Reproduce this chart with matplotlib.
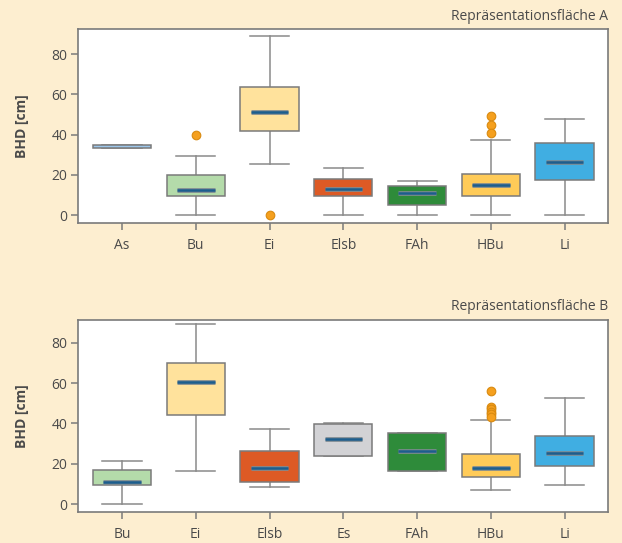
import matplotlib
matplotlib.use("Agg")
import matplotlib.pyplot as plt
import matplotlib.patheffects as pe

plt.rcParams['font.family'] = ['Open Sans', 'DejaVu Sans']

# ---- data: panel A ----
cats_a = ["As", "Bu", "Ei", "Elsb", "FAh", "HBu", "Li"]
q1_a = [33.3, 9.7, 41.7, 9.7, 5.1, 9.7, 17.5]
med_a = [34.0, 12.7, 51.1, 13.2, 11.2, 15.0, 26.3]
q3_a = [34.7, 19.8, 63.6, 17.9, 14.5, 20.5, 35.7]
wlo_a = [33.3, 0.0, 25.6, 0.0, 0.0, 0.0, 0.0]
whi_a = [34.7, 29.6, 89.0, 23.6, 17.2, 37.4, 47.8]
fl_a = [[], [40.0], [0.2], [], [], [49.2, 45.0, 40.7], []]

# ---- data: panel B ----
cats_b = ["Bu", "Ei", "Elsb", "Es", "FAh", "HBu", "Li"]
q1_b = [9.4, 44.3, 11.1, 24.0, 16.5, 13.2, 18.9]
med_b = [11.1, 60.4, 17.7, 32.1, 26.3, 18.0, 25.3]
q3_b = [16.9, 70.1, 26.3, 39.8, 35.2, 24.8, 33.6]
wlo_b = [0.0, 16.4, 8.3, 24.0, 16.5, 6.9, 9.6]
whi_b = [21.5, 89.5, 37.4, 40.0, 35.4, 41.5, 52.6]
fl_b = [[], [], [], [], [], [56.1, 48.3, 47.0, 45.7, 44.5, 43.3], []]

colors = {
    "As": "#9CC6EA", "Bu": "#B4DBAA", "Ei": "#FFE29C", "Elsb": "#DD5A25",
    "Es": "#D2D2D5", "FAh": "#2E8B3A", "HBu": "#FFCB58", "Li": "#40AEE2",
}

BG = "#FDEED0"
GREY = "#7A7A7A"
TXT = "#4A4A4A"

fig = plt.figure(figsize=(6.22, 5.43), dpi=100, facecolor=BG)
ax_a = fig.add_axes([0.1259, 0.5899, 0.8521, 0.3562])
ax_b = fig.add_axes([0.1259, 0.0577, 0.8521, 0.3530])


def draw(ax, cats, q1, med, q3, wlo, whi, fl, ylim, title):
    stats = []
    for i, c in enumerate(cats):
        stats.append(dict(label=c, q1=q1[i], med=med[i], q3=q3[i],
                          whislo=wlo[i], whishi=whi[i], fliers=fl[i]))
    pos = list(range(len(cats)))
    res = ax.bxp(stats, positions=pos, widths=0.79, patch_artist=True,
                 showfliers=True,
                 boxprops=dict(edgecolor=GREY, linewidth=1.1),
                 whiskerprops=dict(color="#8A8A8A", linewidth=1.1),
                 capprops=dict(color="#8A8A8A", linewidth=1.1),
                 capwidths=0.53,
                 medianprops=dict(visible=False),
                 flierprops=dict(marker='o', markersize=6.2,
                                 markerfacecolor="#F5A01E",
                                 markeredgecolor="#D98A10",
                                 markeredgewidth=0.8, linestyle='none'))
    for patch, c in zip(res['boxes'], cats):
        patch.set_facecolor(colors[c])
        patch.set_zorder(3)
    for i, c in enumerate(cats):
        if q3[i] - q1[i] < 2:
            continue
        ln, = ax.plot([i - 0.255, i + 0.255], [med[i], med[i]],
                      color="#1C5E8E", linewidth=1.8, solid_capstyle='butt',
                      zorder=5)
        ln.set_path_effects([pe.Stroke(linewidth=3.4, foreground="#7E8A92",
                                       capstyle='butt'), pe.Normal()])
    ax.set_xlim(-0.592, len(cats) - 1 + 0.592)
    ax.set_ylim(*ylim)
    ax.set_yticks([0, 20, 40, 60, 80])
    ax.set_xticks(pos)
    ax.set_xticklabels(cats)
    ax.set_facecolor("white")
    for s in ax.spines.values():
        s.set_color(GREY)
        s.set_linewidth(1.2)
    ax.tick_params(axis='both', colors=GREY, labelcolor=TXT, labelsize=10,
                   length=5, width=1.1, direction='out')
    ax.tick_params(axis='x', pad=6)
    ax.tick_params(axis='y', pad=3)
    ax.set_ylabel("BHD [cm]", fontsize=10, fontweight='bold', color=TXT,
                  labelpad=16)
    ax.set_title(title, loc='right', fontsize=10, color=TXT, pad=7)


draw(ax_a, cats_a, q1_a, med_a, q3_a, wlo_a, whi_a, fl_a, (-3.7, 92.3),
     "Repräsentationsfläche A")
draw(ax_b, cats_b, q1_b, med_b, q3_b, wlo_b, whi_b, fl_b, (-3.8, 91.3),
     "Repräsentationsfläche B")

fig.savefig("out.png", dpi=100, facecolor=BG)
